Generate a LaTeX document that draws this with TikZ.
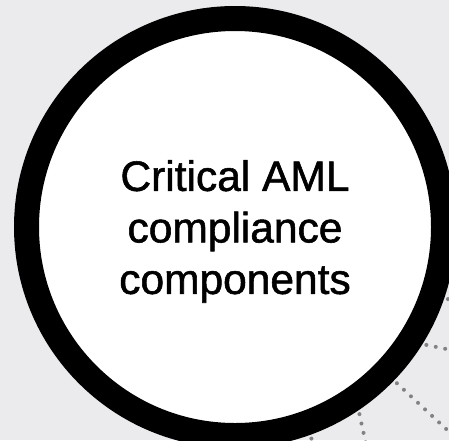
\documentclass[tikz,border=0pt]{standalone}
\usepackage{fontspec}
\setmainfont{Liberation Sans}[RawFeature={embolden=1.3}]
\definecolor{bg}{RGB}{235,235,237}
\definecolor{dotgray}{RGB}{130,130,132}

\begin{document}
\begin{tikzpicture}[x=1pt, y=-1pt, main node/.style={circle,draw,line width=25pt,fill=white,minimum size=417pt,inner sep=0pt,outer sep=12.5pt,align=center,text depth=0pt,font=\fontsize{42.5}{51.5}\selectfont}, dot line/.style={draw=dotgray,line width=4pt,line cap=round,dash pattern=on 0pt off 9.6pt,shorten <=4pt}]
            \clip (0,0) rectangle (449,440);
            \fill[bg] (0,0) rectangle (449,440);

            \node[main node] (core) at (235,227) {Critical AML\\compliance\\components};

            \coordinate (c1) at (520,301);
            \coordinate (c2) at (500,360);
            \coordinate (c3) at (500,479);
            \coordinate (c4) at (376,490);
            \coordinate (c5) at (320,480);

            \path[dot line]
                (core.341.2) edge (c1)
                (core.328.6) edge (c2)
                (core.316.8) edge (c3)
                (core.304.3) edge (c4)
                (core.290.1) edge (c5);
        \end{tikzpicture}
\end{document}
